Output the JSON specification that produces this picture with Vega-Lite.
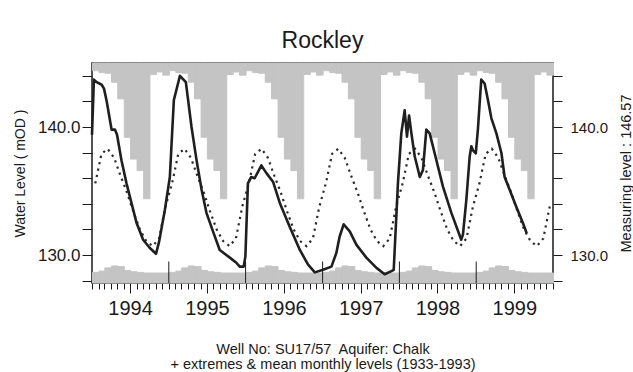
{
  "$schema": "https://vega.github.io/schema/vega-lite/v6.json",
  "width": 461,
  "height": 220,
  "autosize": "none",
  "padding": {"left": 92, "top": 63, "right": 80, "bottom": 89},
  "background": "white",
  "config": {
    "view": {"stroke": "#1a1a1a", "strokeWidth": 1.5},
    "font": "Liberation Sans",
    "axis": {"domain": false, "grid": false, "tickColor": "#1a1a1a", "labelColor": "#1a1a1a", "titleColor": "#1a1a1a", "titleFontWeight": "normal", "titleFont": "Liberation Sans", "labelFont": "Liberation Sans"}
  },
  "title": {"text": "Rockley", "fontSize": 23, "fontWeight": "normal", "font": "Liberation Sans", "color": "#1a1a1a", "offset": -8, "baseline": "alphabetic"},
  "datasets": {
    "clim": [
      {"date":"1994-01-01","max":144.4,"min":128.65,"mean":135.6},{"date":"1994-02-01","max":144.25,"min":128.75,"mean":137.9},{"date":"1994-03-01","max":144.2,"min":129.0,"mean":138.3},{"date":"1994-04-01","max":143.5,"min":129.15,"mean":137.6},{"date":"1994-05-01","max":142.2,"min":129.1,"mean":136.2},{"date":"1994-06-01","max":139.2,"min":128.8,"mean":134.9},{"date":"1994-07-01","max":137.5,"min":128.7,"mean":133.4},{"date":"1994-08-01","max":136.6,"min":128.65,"mean":132.0},{"date":"1994-09-01","max":134.4,"min":128.6,"mean":131.1},{"date":"1994-10-01","max":144.1,"min":128.6,"mean":130.7},{"date":"1994-11-01","max":144.3,"min":128.6,"mean":131.3},{"date":"1994-12-01","max":144.05,"min":128.6,"mean":133.8},
      {"date":"1995-01-01","max":144.4,"min":128.65,"mean":135.6},{"date":"1995-02-01","max":144.25,"min":128.75,"mean":137.9},{"date":"1995-03-01","max":144.2,"min":129.0,"mean":138.3},{"date":"1995-04-01","max":143.5,"min":129.15,"mean":137.6},{"date":"1995-05-01","max":142.2,"min":129.1,"mean":136.2},{"date":"1995-06-01","max":139.2,"min":128.8,"mean":134.9},{"date":"1995-07-01","max":137.5,"min":128.7,"mean":133.4},{"date":"1995-08-01","max":136.6,"min":128.65,"mean":132.0},{"date":"1995-09-01","max":134.4,"min":128.6,"mean":131.1},{"date":"1995-10-01","max":144.1,"min":128.6,"mean":130.7},{"date":"1995-11-01","max":144.3,"min":128.6,"mean":131.3},{"date":"1995-12-01","max":144.05,"min":128.6,"mean":133.8},
      {"date":"1996-01-01","max":144.4,"min":128.65,"mean":135.6},{"date":"1996-02-01","max":144.25,"min":128.75,"mean":137.9},{"date":"1996-03-01","max":144.2,"min":129.0,"mean":138.3},{"date":"1996-04-01","max":143.5,"min":129.15,"mean":137.6},{"date":"1996-05-01","max":142.2,"min":129.1,"mean":136.2},{"date":"1996-06-01","max":139.2,"min":128.8,"mean":134.9},{"date":"1996-07-01","max":137.5,"min":128.7,"mean":133.4},{"date":"1996-08-01","max":136.6,"min":128.65,"mean":132.0},{"date":"1996-09-01","max":134.4,"min":128.6,"mean":131.1},{"date":"1996-10-01","max":144.1,"min":128.6,"mean":130.7},{"date":"1996-11-01","max":144.3,"min":128.6,"mean":131.3},{"date":"1996-12-01","max":144.05,"min":128.6,"mean":133.8},
      {"date":"1997-01-01","max":144.4,"min":128.65,"mean":135.6},{"date":"1997-02-01","max":144.25,"min":128.75,"mean":137.9},{"date":"1997-03-01","max":144.2,"min":129.0,"mean":138.3},{"date":"1997-04-01","max":143.5,"min":129.15,"mean":137.6},{"date":"1997-05-01","max":142.2,"min":129.1,"mean":136.2},{"date":"1997-06-01","max":139.2,"min":128.8,"mean":134.9},{"date":"1997-07-01","max":137.5,"min":128.7,"mean":133.4},{"date":"1997-08-01","max":136.6,"min":128.65,"mean":132.0},{"date":"1997-09-01","max":134.4,"min":128.6,"mean":131.1},{"date":"1997-10-01","max":144.1,"min":128.6,"mean":130.7},{"date":"1997-11-01","max":144.3,"min":128.6,"mean":131.3},{"date":"1997-12-01","max":144.05,"min":128.6,"mean":133.8},
      {"date":"1998-01-01","max":144.4,"min":128.65,"mean":135.6},{"date":"1998-02-01","max":144.25,"min":128.75,"mean":137.9},{"date":"1998-03-01","max":144.2,"min":129.0,"mean":138.3},{"date":"1998-04-01","max":143.5,"min":129.15,"mean":137.6},{"date":"1998-05-01","max":142.2,"min":129.1,"mean":136.2},{"date":"1998-06-01","max":139.2,"min":128.8,"mean":134.9},{"date":"1998-07-01","max":137.5,"min":128.7,"mean":133.4},{"date":"1998-08-01","max":136.6,"min":128.65,"mean":132.0},{"date":"1998-09-01","max":134.4,"min":128.6,"mean":131.1},{"date":"1998-10-01","max":144.1,"min":128.6,"mean":130.7},{"date":"1998-11-01","max":144.3,"min":128.6,"mean":131.3},{"date":"1998-12-01","max":144.05,"min":128.6,"mean":133.8},
      {"date":"1999-01-01","max":144.4,"min":128.65,"mean":135.6},{"date":"1999-02-01","max":144.25,"min":128.75,"mean":137.9},{"date":"1999-03-01","max":144.2,"min":129.0,"mean":138.3},{"date":"1999-04-01","max":143.5,"min":129.15,"mean":137.6},{"date":"1999-05-01","max":142.2,"min":129.1,"mean":136.2},{"date":"1999-06-01","max":139.2,"min":128.8,"mean":134.9},{"date":"1999-07-01","max":137.5,"min":128.7,"mean":133.4},{"date":"1999-08-01","max":136.6,"min":128.65,"mean":132.0},{"date":"1999-09-01","max":134.4,"min":128.6,"mean":131.1},{"date":"1999-10-01","max":144.1,"min":128.6,"mean":130.7},{"date":"1999-11-01","max":144.3,"min":128.6,"mean":131.3},{"date":"1999-12-01","max":144.05,"min":128.6,"mean":133.8}
    ],
    "obs": [
      {"date":"1994-01-01","level":139.4},{"date":"1994-01-10","level":143.7},{"date":"1994-01-23","level":143.5},{"date":"1994-02-16","level":143.3},{"date":"1994-02-27","level":143.0},{"date":"1994-03-12","level":142.0},{"date":"1994-04-04","level":139.8},{"date":"1994-04-20","level":139.8},{"date":"1994-04-30","level":139.4},{"date":"1994-05-21","level":137.4},{"date":"1994-06-14","level":135.6},{"date":"1994-07-08","level":134.05},{"date":"1994-08-01","level":132.5},{"date":"1994-09-01","level":131.2},{"date":"1994-10-03","level":130.55},{"date":"1994-11-01","level":130.1},{"date":"1994-11-16","level":131.05},{"date":"1994-12-13","level":133.5},
      {"date":"1995-01-06","level":136.1},{"date":"1995-01-25","level":142.1},{"date":"1995-02-23","level":144.0},{"date":"1995-03-23","level":143.5},{"date":"1995-04-19","level":140.0},{"date":"1995-05-13","level":137.4},{"date":"1995-06-06","level":135.1},{"date":"1995-06-29","level":133.3},{"date":"1995-07-30","level":131.85},{"date":"1995-08-31","level":130.4},{"date":"1995-10-18","level":129.8},{"date":"1995-11-18","level":129.4},{"date":"1995-12-04","level":129.1},{"date":"1995-12-23","level":129.1},{"date":"1995-12-31","level":129.9},
      {"date":"1996-01-12","level":135.6},{"date":"1996-01-28","level":136.1},{"date":"1996-02-13","level":136.0},{"date":"1996-03-16","level":137.0},{"date":"1996-04-09","level":136.4},{"date":"1996-05-11","level":135.7},{"date":"1996-06-12","level":134.05},{"date":"1996-07-29","level":132.2},{"date":"1996-09-15","level":130.4},{"date":"1996-10-24","level":129.25},{"date":"1996-11-25","level":128.65},
      {"date":"1997-01-03","level":128.85},{"date":"1997-02-12","level":129.1},{"date":"1997-03-07","level":130.15},{"date":"1997-03-23","level":131.45},{"date":"1997-04-11","level":132.4},{"date":"1997-05-10","level":131.85},{"date":"1997-06-11","level":130.8},{"date":"1997-07-28","level":129.8},{"date":"1997-09-14","level":129.0},{"date":"1997-10-23","level":128.5},{"date":"1997-11-24","level":128.75},{"date":"1997-12-05","level":128.85},{"date":"1997-12-25","level":135.6},
      {"date":"1998-01-10","level":139.5},{"date":"1998-01-26","level":141.3},{"date":"1998-02-06","level":139.25},{"date":"1998-02-16","level":140.9},{"date":"1998-02-27","level":139.5},{"date":"1998-03-15","level":137.7},{"date":"1998-04-08","level":136.1},{"date":"1998-04-23","level":136.65},{"date":"1998-05-09","level":139.8},{"date":"1998-05-25","level":139.5},{"date":"1998-06-26","level":137.4},{"date":"1998-07-27","level":135.35},{"date":"1998-09-05","level":133.3},{"date":"1998-10-22","level":131.2},{"date":"1998-10-30","level":131.6},{"date":"1998-11-15","level":134.3},{"date":"1998-12-01","level":137.7},{"date":"1998-12-09","level":138.5},{"date":"1998-12-16","level":138.2},{"date":"1998-12-30","level":137.95},
      {"date":"1999-01-09","level":139.8},{"date":"1999-01-25","level":143.7},{"date":"1999-02-10","level":143.4},{"date":"1999-02-26","level":142.1},{"date":"1999-03-14","level":140.7},{"date":"1999-04-07","level":139.5},{"date":"1999-05-01","level":137.95},{"date":"1999-05-16","level":136.1},{"date":"1999-06-09","level":135.1},{"date":"1999-07-10","level":133.8},{"date":"1999-08-11","level":132.5},{"date":"1999-08-29","level":131.7}
    ],
    "years": [{"date":"1995-01-01"},{"date":"1996-01-01"},{"date":"1997-01-01"},{"date":"1998-01-01"},{"date":"1999-01-01"}]
  },
  "layer": [
    {
      "data": {"name": "clim"},
      "mark": {"type": "bar", "color": "#c4c4c4", "stroke": "#c4c4c4", "strokeWidth": 1, "binSpacing": 0},
      "encoding": {
        "x": {
          "field": "date", "type": "temporal", "timeUnit": "yearmonth",
          "scale": {"domain": [{"year": 1994, "month": 1, "date": 1}, {"year": 2000, "month": 1, "date": 1}]},
          "axis": {
            "title": ["Well No: SU17/57\u00a0 Aquifer: Chalk", "+ extremes & mean monthly levels (1933-1993)"],
            "titleFontSize": 14.5, "titleLineHeight": 15, "titlePadding": 24,
            "tickCount": {"interval": "month", "step": 1},
            "tickSize": {"condition": {"test": "month(datum.value) === 6", "value": 10}, "value": 6},
            "tickWidth": 1,
            "labelExpr": "month(datum.value) === 6 ? timeFormat(datum.value, '%Y') : ''",
            "labelFontSize": 20, "labelPadding": 5, "labelOverlap": false, "labelFlush": false
          }
        },
        "y": {
          "field": "max", "type": "quantitative",
          "scale": {"domain": [127.82, 145], "nice": false, "zero": false},
          "axis": {
            "orient": "left", "title": "Water Level ( mOD )", "titleFontSize": 14, "titlePadding": 10,
            "values": [128, 130, 132, 134, 136, 138, 140, 142, 144],
            "labelExpr": "datum.value % 10 === 0 ? format(datum.value, '.1f') : ''",
            "labelFontSize": 17, "tickSize": 10, "tickWidth": 1, "labelPadding": 2, "labelOverlap": false
          }
        },
        "y2": {"datum": 145}
      }
    },
    {
      "data": {"name": "clim"},
      "mark": {"type": "bar", "color": "#c4c4c4", "stroke": "#c4c4c4", "strokeWidth": 1, "binSpacing": 0},
      "encoding": {
        "x": {"field": "date", "type": "temporal", "timeUnit": "yearmonth"},
        "y": {
          "field": "min", "type": "quantitative",
          "scale": {"domain": [127.82, 145], "nice": false, "zero": false},
          "axis": {
            "orient": "right", "title": "Measuring level : 146.57", "titleFontSize": 14.5, "titleAngle": 270, "titleBaseline": "top", "titlePadding": 12,
            "values": [128, 130, 132, 134, 136, 138, 140, 142, 144],
            "labelExpr": "datum.value % 10 === 0 ? format(datum.value, '.1f') : ''",
            "labelFontSize": 15, "tickSize": 9, "tickWidth": 1, "labelPadding": 8, "labelOverlap": false
          }
        },
        "y2": {"datum": 127.82}
      }
    },
    {
      "data": {"name": "years"},
      "mark": {"type": "rule", "color": "#1a1a1a", "strokeWidth": 1},
      "encoding": {
        "x": {"field": "date", "type": "temporal"},
        "y": {"datum": 127.82, "scale": {"domain": [127.82, 145], "nice": false, "zero": false}, "axis": null},
        "y2": {"datum": 129.5}
      }
    },
    {
      "data": {"name": "clim"},
      "mark": {"type": "line", "color": "#2a2a2a", "strokeWidth": 2.2, "strokeDash": [2.2, 4.3]},
      "encoding": {
        "x": {"field": "date", "type": "temporal", "timeUnit": "yearmonth", "bandPosition": 0.5},
        "y": {"field": "mean", "type": "quantitative", "scale": {"domain": [127.82, 145], "nice": false, "zero": false}, "axis": null}
      }
    },
    {
      "data": {"name": "obs"},
      "mark": {"type": "line", "color": "#1f1f1f", "strokeWidth": 2.6, "strokeJoin": "round"},
      "encoding": {
        "x": {"field": "date", "type": "temporal"},
        "y": {"field": "level", "type": "quantitative", "scale": {"domain": [127.82, 145], "nice": false, "zero": false}, "axis": null}
      }
    }
  ],
  "resolve": {"axis": {"y": "independent"}}
}
